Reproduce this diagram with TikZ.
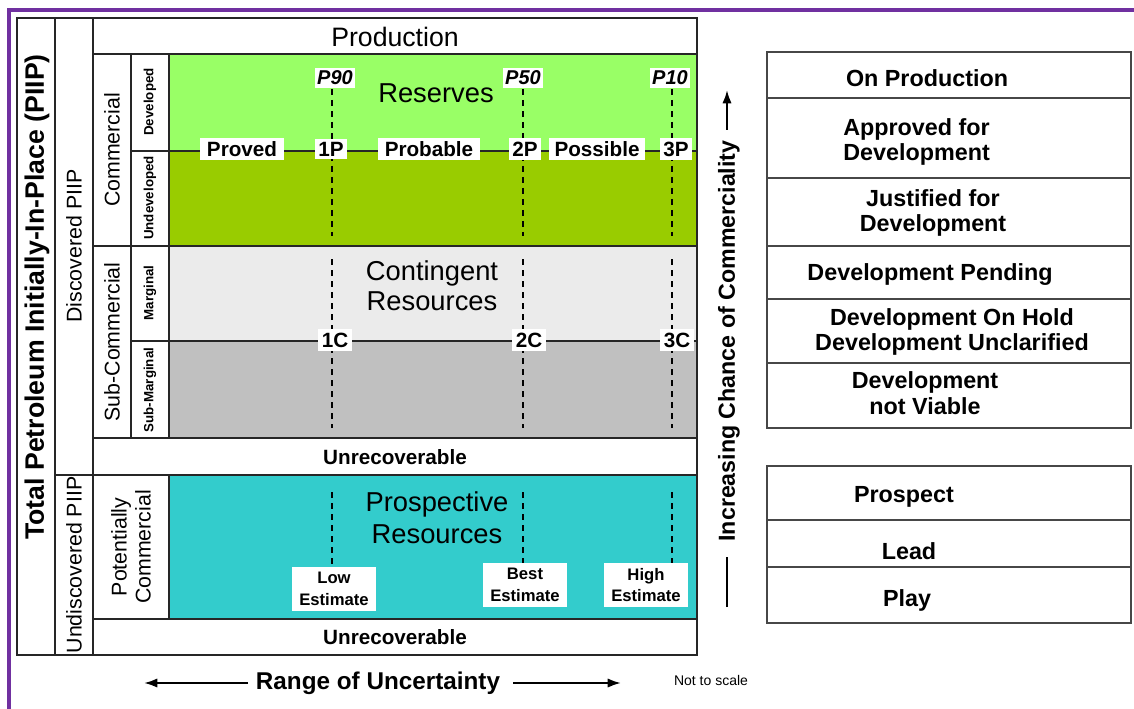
\documentclass[tikz,border=0pt]{standalone}
\usepackage{fontspec}
\setmainfont{Liberation Sans}
\usetikzlibrary{arrows.meta}
\definecolor{devgreen}{HTML}{99FF66}
\definecolor{undevgreen}{HTML}{99CC00}
\definecolor{margray}{HTML}{EBEBEB}
\definecolor{subgray}{HTML}{C0C0C0}
\definecolor{prosteal}{HTML}{33CCCC}
\definecolor{frame}{HTML}{7030A0}
\definecolor{gridline}{HTML}{262626}
\newcommand\myfs[2]{\fontsize{#1}{#2}\selectfont}
\begin{document}
\begin{tikzpicture}[x=0.75pt,y=-0.75pt,
  gridl/.style={draw=gridline,line width=1.4pt},
  boxl/.style={draw=gridline!85,line width=1.2pt},
  dashl/.style={draw=black,line width=1.5pt,dash pattern=on 4.5pt off 3.75pt},
  lbl/.style={fill=white,inner sep=2.5pt,font=\bfseries\myfs{15.5}{18}},
  pval/.style={fill=white,inner sep=2pt,font=\bfseries\itshape\myfs{15}{18}},
  est/.style={fill=white,inner sep=2pt,minimum width=63pt,minimum height=33pt,align=center,font=\bfseries\myfs{12.5}{16}},
  big/.style={inner sep=0pt,align=center,font=\myfs{20.5}{23}},
  side/.style={inner sep=0pt,rotate=90,align=center,font=\myfs{16}{18}},
  small/.style={inner sep=0pt,rotate=90,font=\bfseries\myfs{10}{12}},
  unrec/.style={inner sep=0pt,font=\bfseries\myfs{15.5}{18}},
  rtxt/.style={inner sep=0pt,align=center,font=\bfseries\myfs{17.5}{19}},
  arr/.style={-{Latex[length=10pt,width=7pt]},line width=1.6pt}]
\useasboundingbox (0,0) rectangle (1134,709);
% purple frame
\draw[frame,line width=2.6pt] (9,709) -- (9,10) -- (1134,10);
% fills
\fill[devgreen] (169,54) rectangle (697,151);
\fill[undevgreen] (169,151) rectangle (697,246);
\fill[margray] (169,246) rectangle (697,341);
\fill[subgray] (169,341) rectangle (697,438);
\fill[prosteal] (169,475) rectangle (697,619);
% grid
\draw[gridl] (17,18) rectangle (697,655);
\draw[gridl] (55,18) -- (55,655);
\draw[gridl] (93,18) -- (93,655);
\draw[gridl] (93,54) -- (697,54);
\draw[gridl] (93,246) -- (697,246);
\draw[gridl] (93,438) -- (697,438);
\draw[gridl] (55,475) -- (697,475);
\draw[gridl] (93,619) -- (697,619);
\draw[gridl] (131,54) -- (131,438);
\draw[gridl] (169,54) -- (169,438);
\draw[gridl] (169,475) -- (169,619);
\draw[gridl,line width=1.2pt] (131,151) -- (697,151);
\draw[gridl,line width=1.2pt] (131,341) -- (697,341);
% dashed uncertainty lines
\foreach \xx in {332,523,672}{
  \draw[dashl] (\xx,89) -- (\xx,236);
  \draw[dashl] (\xx,259) -- (\xx,428);
  \draw[dashl] (\xx,492) -- (\xx,566);
}
% labels on lines
\node[pval] (p90) at (335,78) {P90};
\node[pval] (p50) at (523,78) {P50};
\node[pval] (p10) at (670,78) {P10};
\node[lbl,minimum width=63pt] (proved) at (242,149) {Proved};
\node[lbl] (onep) at (331,149) {1P};
\node[lbl,minimum width=76pt] (probable) at (429,149) {Probable};
\node[lbl] (twop) at (525,149) {2P};
\node[lbl,minimum width=72pt] (possible) at (597,149) {Possible};
\node[lbl] (threep) at (676,149) {3P};
\node[lbl] (onec) at (335,340) {1C};
\node[lbl] (twoc) at (529,340) {2C};
\node[lbl] (threec) at (677,340) {3C};
\node[est] (low) at (334,589) {Low\\Estimate};
\node[est] (best) at (525,585) {Best\\Estimate};
\node[est] (high) at (646,585) {High\\Estimate};
% main texts
\node[big,font=\myfs{20}{23}] (prod) at (395,37) {Production};
\node[big] (res) at (436,93) {Reserves};
\node[big,font=\myfs{20.5}{22.5}] (cont) at (432,286) {Contingent\\Resources};
\node[big,font=\myfs{20.5}{24}] (pros) at (437,518) {Prospective\\Resources};
\node[unrec] (unrec1) at (395,457) {Unrecoverable};
\node[unrec] (unrec2) at (395,637) {Unrecoverable};
% side texts
\node[side,font=\bfseries\myfs{20}{23}] (piip) at (37,297) {Total Petroleum Initially-In-Place (PIIP)};
\node[side] (disc) at (74,246) {Discovered PIIP};
\node[side] (undisc) at (74,565) {Undiscovered PIIP};
\node[side] (comm) at (112,150) {Commercial};
\node[side] (subcomm) at (112,342) {Sub-Commercial};
\node[side] (potcomm) at (131,547) {Potentially\\Commercial};
\node[small] (dev) at (150,102) {Developed};
\node[small] (undev) at (150,198) {Undeveloped};
\node[small] (marg) at (150,293) {Marginal};
\node[small] (submarg) at (150,390) {Sub-Marginal};
% right boxes
\draw[boxl] (767,52) rectangle (1131,299);
\draw[boxl] (767,98) -- (1131,98);
\draw[boxl] (767,178) -- (1131,178);
\draw[boxl] (767,246) -- (1131,246);
\draw[boxl] (767,299) rectangle (1131,428);
\draw[boxl] (767,363) -- (1131,363);
\draw[boxl] (767,466) rectangle (1131,623);
\draw[boxl] (767,520) -- (1131,520);
\draw[boxl] (767,567) -- (1131,567);
\node[rtxt] (onprod) at (927,78) {On Production};
\node[rtxt,align=left,anchor=west] (approved) at (843,142) {Approved for\\Development};
\node[rtxt] (justified) at (933,213) {Justified for\\Development};
\node[rtxt] (pending) at (930,275) {Development Pending};
\node[rtxt] (onhold) at (952,332) {Development On Hold\\Development Unclarified};
\node[rtxt] (notviable) at (925,393) {Development\\not Viable};
\node[rtxt] (prospect) at (904,497) {Prospect};
\node[rtxt] (lead) at (909,551) {Lead};
\node[rtxt] (play) at (907,600) {Play};
% increasing chance
\node[inner sep=0pt,rotate=90,font=\bfseries\myfs{17.4}{19}] (incr) at (729,341) {Increasing Chance of Commerciality};
\coordinate (incrTop) at (727,90);
\coordinate (incrArrBot) at (727,130);
\coordinate (incrBot) at (727,607);
\coordinate (incrLineTop) at (727,557);
\draw[arr] (incrArrBot) -- (incrTop);
\draw[line width=1.6pt] (incrBot) -- (incrLineTop);
% range of uncertainty
\node[inner sep=0pt,font=\bfseries\myfs{18.2}{20}] (range) at (378,683) {Range of Uncertainty};
\coordinate (rl) at (144,683);
\coordinate (rlb) at (248,683);
\coordinate (rr) at (621,683);
\coordinate (rrb) at (513,683);
\draw[arr] (rlb) -- (rl);
\draw[arr] (rrb) -- (rr);
\node[inner sep=0pt,font=\myfs{10.5}{12}] (nts) at (711,680) {Not to scale};
\end{tikzpicture}
\end{document}
